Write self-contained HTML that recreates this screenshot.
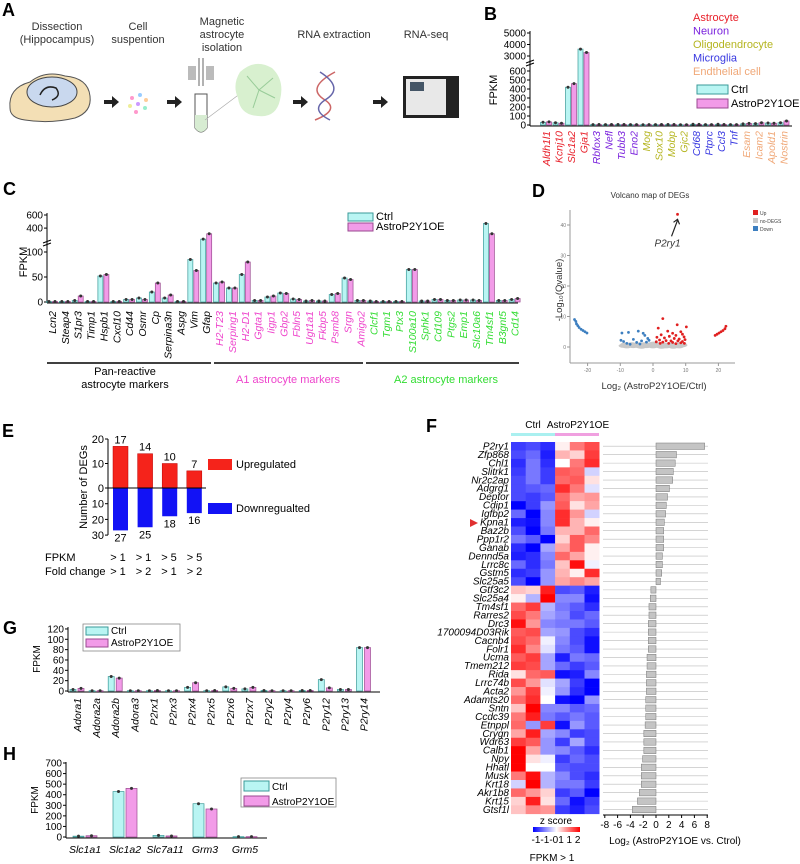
<!DOCTYPE html>
<html><head><meta charset="utf-8"><style>
html,body{margin:0;padding:0;background:#fff;}
svg{display:block;font-family:"Liberation Sans",Arial,sans-serif;}
</style></head><body>
<svg id="fig" width="800" height="864" viewBox="0 0 800 864" xmlns="http://www.w3.org/2000/svg">
<g>
<text x="2" y="16" font-size="18" font-weight="bold">A</text>
<g font-size="11" fill="#333" text-anchor="middle">
<text x="57" y="30">Dissection</text>
<text x="57" y="43">(Hippocampus)</text>
<text x="138" y="30">Cell</text>
<text x="138" y="43">suspention</text>
<text x="222" y="25">Magnetic</text>
<text x="222" y="38">astrocyte</text>
<text x="222" y="51">isolation</text>
<text x="334" y="38">RNA extraction</text>
<text x="426" y="38">RNA-seq</text>
</g>
<g>
<path d="M10,108 Q8,88 30,82 Q45,70 65,76 Q88,78 90,96 Q92,112 75,118 Q50,124 25,120 Q10,118 10,108Z" fill="#f3dfb5" stroke="#555" stroke-width="1"/>
<ellipse cx="52" cy="92" rx="25" ry="15" fill="#c9d8ee" stroke="#444"/>
<path d="M40,95 Q45,84 56,88 Q62,96 52,100" fill="none" stroke="#222" stroke-width="1.5"/>
</g>
<g fill="#222">
<path d="M104,100 h8 v-4 l7,6 -7,6 v-4 h-8z"/>
<path d="M167,100 h8 v-4 l7,6 -7,6 v-4 h-8z"/>
<path d="M293,100 h8 v-4 l7,6 -7,6 v-4 h-8z"/>
<path d="M373,100 h8 v-4 l7,6 -7,6 v-4 h-8z"/>
</g>
<g>
<circle cx="132" cy="98" r="2" fill="#f9c"/><circle cx="140" cy="95" r="2" fill="#9cf"/><circle cx="146" cy="100" r="2" fill="#fc9"/>
<circle cx="130" cy="106" r="2" fill="#ee9"/><circle cx="138" cy="104" r="2" fill="#c9f"/><circle cx="145" cy="108" r="2" fill="#9ec"/><circle cx="136" cy="112" r="2" fill="#f9c"/>
</g>
<g>
<rect x="188" y="66" width="8" height="14" fill="#bbb"/><rect x="206" y="66" width="8" height="14" fill="#bbb"/>
<path d="M199,58 v28 M203,58 v28" stroke="#666" fill="none"/>
<path d="M195,94 h12 v34 q-6,8 -12,0z" fill="#fff" stroke="#555"/>
<path d="M195,115 h12 v13 q-6,8 -12,0z" fill="#d7ecd2"/>
<line x1="205" y1="120" x2="245" y2="90" stroke="#aaa" stroke-width="0.7"/>
<path d="M240,72 Q255,58 272,68 Q285,80 280,100 Q276,118 258,116 Q240,115 238,98 Q232,85 240,72Z" fill="#d8f0cf"/>
<path d="M259,90 l-12,-14 M259,90 l14,-12 M259,90 l-6,18 M259,90 l16,8" stroke="#9c9" stroke-width="1"/>
</g>
<g>
<path d="M335,72 Q305,88 325,100 Q340,110 315,120" fill="none" stroke="#c66" stroke-width="1.5"/>
<path d="M320,72 Q345,88 325,100 Q310,110 330,120" fill="none" stroke="#66a" stroke-width="1.5"/>
</g>
<g>
<rect x="403" y="76" width="56" height="42" fill="#222"/>
<rect x="406" y="79" width="40" height="36" fill="#e8e8e8"/>
<rect x="410" y="82" width="14" height="9" fill="#456"/>
</g>
</g>
<g id="gB"></g>
<g id="gC"></g>
<g id="gD"></g>
<g id="gE"></g>
<g id="gF"></g>
<g id="gG"></g>
<g id="gH"></g>
</svg>
<script>
// ---------- DATA ----------
const bGenes=["Aldh1l1","Kcnj10","Slc1a2","Gja1","Rbfox3","Nefl","Tubb3","Eno2","Mog","Sox10","Mobp","Gjc2","Cd68","Ptprc","Ccl3","Tnf","Esam","Icam2","Apold1","Nostrin"];
const bCtrl=[30,25,420,3600,4,4,5,4,3,4,5,3,8,4,8,4,12,15,22,25];
const bOE=[35,20,460,3300,5,5,6,4,4,5,5,3,7,4,6,4,18,25,20,45];
const bGroup=[0,0,0,0,1,1,1,1,2,2,2,2,3,3,3,3,4,4,4,4];
const bTicks=[0,100,200,300,400,500,600,3000,4000,5000];

const cGenes=["Lcn2","Steap4","S1pr3","Timp1","Hspb1","Cxcl10","Cd44","Osmr","Cp","Serpina3n","Aspg","Vim","Gfap","H2-T23","Serping1","H2-D1","Ggta1","Iigp1","Gbp2","Fbln5","Ugt1a1","Fkbp5","Psmb8","Srgn","Amigo2","Clcf1","Tgm1","Ptx3","S100a10","Sphk1","Cd109","Ptgs2","Emp1","Slc10a6","Tm4sf1","B3gnt5","Cd14"];
const cCtrl=[1,1,3,1,52,1,5,8,20,8,1,85,225,38,28,55,3,10,18,6,2,2,15,48,3,2,1,1,65,2,5,3,4,4,470,3,5];
const cOE=[1,1,12,1,55,1,5,5,38,14,1,63,310,40,28,80,3,12,17,5,3,2,17,45,3,1,1,1,65,2,5,3,4,3,310,3,7];
const cTicks=[0,50,100,400,600];

const upPts=[[7.5,43.5],[3,9.3],[7.4,7.3],[10.2,6.6],[1.6,6.2],[4.5,5.2],[8.5,5],[9,4.2],[6,4.5],[2.5,4],[5,3.5],[7,3.8],[9.5,3.3],[1.2,3.2],[3.5,3],[6.5,2.8],[8,2.6],[9.8,2.4],[2,2.3],[4,2.1],[5.5,2],[7.6,2],[9,1.8],[1,1.7],[3,1.6],[6,1.5],[8.5,1.4],[2.2,1.2],[4.8,1.2],[7,1.1],[9.6,1.2],[19,3.8],[19.6,4.2],[20.2,4.6],[20.8,5],[21.4,5.4],[22,6],[22.3,6.8]];
const downPts=[[-24,9],[-23.6,8.4],[-23.4,7.6],[-23,7],[-22.6,6.4],[-22,5.8],[-21.4,5.4],[-20.8,5],[-20.2,4.6],[-9.5,4.6],[-7.5,4.8],[-4.5,5.2],[-3,4.5],[-2.5,3.8],[-9.8,2.2],[-9,1.8],[-8,1.2],[-6,2.5],[-5,1.5],[-3.5,2],[-2,1.6],[-1.6,2.8],[-1.2,2.2],[-4,1],[-7,0.9]];
const noPts=[[-9,0.4],[-8,0.2],[-7,0.6],[-6,0.3],[-5,0.5],[-4,0.2],[-3,0.6],[-2,0.3],[-1,0.5],[0,0.2],[1,0.6],[2,0.3],[3,0.5],[4,0.2],[5,0.6],[6,0.3],[7,0.5],[8,0.2],[9,0.6],[-8.5,0.8],[-6.5,0.9],[-4.5,0.8],[-2.5,0.9],[-0.5,0.9],[0.5,0.7],[1.5,0.9],[3.5,0.8],[5.5,0.9],[7.5,0.8],[8.8,0.9],[-3.5,0.1],[0.2,1.1],[2.6,0.1],[6.2,0.1]];
const dXTicks=[-20,-10,0,10,20];
const dYTicks=[0,10,20,30,40];

const eUp=[17,14,10,7];
const eDown=[27,25,18,16];
const eFpkm=["> 1","> 1","> 5","> 5"];
const eFold=["> 1","> 2","> 1","> 2"];

const fGenes=["P2ry1","Zfp868","Chl1","Slitrk1","Nr2c2ap","Adgrg1","Deptor","Cdip1","Igfbp2","Kpna1","Baz2b","Ppp1r2","Ganab","Dennd5a","Lrrc8c","Gstm5","Slc25a5","Gtf3c2","Slc25a4","Tm4sf1","Rarres2","Drc3","1700094D03Rik","Cacnb4","Folr1","Ucma","Tmem212","Rida","Lrrc74b","Acta2","Adamts20","Sntn","Ccdc39","Etnppl","Crygn","Wdr63","Calb1","Npy","Hhatl","Musk","Krt18","Akr1b8","Krt15","Gtsf1l"];
const fLog2=[7.6,3.2,3,2.7,2.6,2.1,1.8,1.6,1.5,1.3,1.2,1.2,1.2,1,1,0.9,0.7,-0.8,-0.9,-1.1,-1.1,-1.2,-1.2,-1.2,-1.2,-1.4,-1.4,-1.5,-1.5,-1.5,-1.6,-1.6,-1.6,-1.7,-1.9,-1.9,-1.9,-2.1,-2.3,-2.3,-2.3,-2.6,-2.9,-3.7];
const fZ=[[-1.3,-1.2,-1.4,0.1,0.9,1.2],[-1.2,-1,-1.5,0.5,0.3,1.3],[-1.4,-0.9,-1.4,0,0.9,1.4],[-1.3,-0.9,-1.3,1.1,1,-0.3],[-1.2,-0.9,-1.3,1,1.1,0.2],[-1.2,-1.1,-1,1.4,0.9,-0.2],[-1.2,-1.3,-1.1,1,0.6,0.7],[-1.8,-1.3,-0.7,1.1,0.2,0.6],[-1,-1.8,-0.8,1.4,0.7,-0.3],[-1.5,-1.6,-0.8,1.4,0.5,0.1],[-1.2,-1.8,-0.9,0.5,0.5,1],[-0.9,-1.1,-1.7,0.3,1.1,0.8],[-1.4,-1.7,-0.6,0.6,1.1,0.1],[-1.5,-1.4,-0.8,1,0.6,0.1],[-1,-1.4,-0.9,0.4,1.6,-0.1],[-1.4,-1.3,-0.7,0.5,0.1,1.4],[-1.2,-1.7,-0.7,0.6,0.8,0.6],
[0.4,0.3,1.5,-1.2,-1.1,-1.5],[0.1,-0.5,1.8,-0.8,-0.8,-1.6],[1,1.3,-0.5,-0.9,-1.1,-1.4],[1.2,0.9,-0.6,-0.8,-1.2,-1],[1.6,0.7,-0.8,-0.9,-0.9,-1.1],[1.1,1.2,-0.6,-0.7,-1.2,-1.4],[1.2,1,-0.1,-0.8,-1.2,-1.6],[1.4,0.8,-0.2,-0.9,-1.1,-1.6],[1.1,1.3,-0.6,-1.5,-0.9,-1],[1.3,1.2,-0.6,-1,-1.3,-1.1],[0.2,1,1.1,-1.6,-1.5,-0.8],[1.2,0.7,-0.2,-0.6,-1.3,-1.8],[0.7,1.3,-0.1,-0.7,-1.4,-1.7],[1,1.4,0,-1.6,-1.7,-0.7],[0.4,1.7,-0.8,-0.8,-1.1,-1],[0.9,1.5,-0.9,-1.1,-0.9,-1.1],[1,-0.7,1.3,-1.6,-0.7,-1.1],[0.6,1.5,-0.6,-0.8,-1.3,-1.2],[1.3,1.1,-0.7,-1.3,-0.6,-1.2],[1.8,0.6,-0.7,-0.8,-1.1,-1.4],[1.8,0.2,-0.1,-1.3,-1,-1.2],[1.8,0,0,-1.1,-1.2,-1.2],[0.9,1.6,-0.5,-0.8,-1.2,-1.4],[-0.3,1.8,-0.5,-0.9,-0.9,-1.3],[1,0.7,0.3,-1.3,-1.1,-1.7],[0.3,1.5,0.2,-1,-1.6,-1.3],[0.4,0.8,0.7,-1.3,-1.5,-1.2]];
const fTicks=[-8,-6,-4,-2,0,2,4,6,8];

const gGenes=["Adora1","Adora2a","Adora2b","Adora3","P2rx1","P2rx3","P2rx4","P2rx5","P2rx6","P2rx7","P2ry2","P2ry4","P2ry6","P2ry12","P2ry13","P2ry14"];
const gCtrl=[3,0.5,28,0.5,0.5,0.5,7,0.5,8,4,1,0.5,1,22,3,84];
const gOE=[5,0.5,25,0.5,1,0.5,16,1,5,7,0.5,0.5,1,6,3,84];
const gTicks=[0,20,40,60,80,100,120];

const hGenes=["Slc1a1","Slc1a2","Slc7a11","Grm3","Grm5"];
const hCtrl=[8,430,15,315,3];
const hOE=[12,460,10,265,3];
const hTicks=[0,100,200,300,400,500,600,700];

// ---------- HELPERS ----------
const NS="http://www.w3.org/2000/svg";
function mk(tag,attrs,parent){const e=document.createElementNS(NS,tag);for(const k in attrs)e.setAttribute(k,attrs[k]);parent.appendChild(e);return e;}
function tx(str,attrs,parent){const e=mk("text",attrs,parent);e.textContent=str;return e;}
const CYAN="#b9f5f3",CYS="#3a9a98",PINK="#f29be8",PKS="#9a4a90";

function yAxis(g,x,ticks,yf,fs,y0,y1){
  const a=mk("line",{x1:x,x2:x,y1:y0,y2:y1,stroke:"#000","stroke-width":1},g);
  
  
  ticks.forEach(t=>{
    const y=yf(t);
    mk("line",{x1:x-3,x2:x,y1:y,y2:y,stroke:"#000"},g);
    const l=tx(String(t),{x:x-4,y:y+fs*0.35,"font-size":fs,"text-anchor":"end"},g);
    
    
  });
}
function bar(g,x,w,v,yf,fill,stroke){
  const y0=yf(0),y=yf(v);
  const r=mk("rect",{x:x,y:Math.min(y,y0),width:w,height:Math.max(0.8,Math.abs(y0-y)),fill:fill,stroke:stroke,"stroke-width":0.7},g);
  
  
  mk("circle",{cx:x+w/2,cy:y,r:1.5,fill:"#333"},g);
  return r;
}
function legend2(g,x,y,bw,bh,gap,fs,box){
  if(box){mk("rect",{x:box[0],y:box[1],width:box[2],height:box[3],fill:"#fff",stroke:"#888","stroke-width":0.8},g);}
  const r1=mk("rect",{x:x,y:y,width:bw,height:bh,fill:CYAN,stroke:CYS},g);
  
  
  const t1=tx("Ctrl",{x:x+bw+3,y:y+bh-1,"font-size":fs},g);
  
  
  const r2=mk("rect",{x:x,y:y+gap,width:bw,height:bh,fill:PINK,stroke:PKS},g);
  
  
  const t2=tx("AstroP2Y1OE",{x:x+bw+3,y:y+gap+bh-1,"font-size":fs},g);
  
  
}
function rotLabel(g,str,x,y,fs,color){
  const t=tx(str,{x:x,y:y,"font-size":fs,"font-style":"italic","text-anchor":"end",fill:color||"#000",transform:`rotate(-90 ${x} ${y})`},g);
  
  
}
function panelLabel(g,s,x,y){
  const t=tx(s,{x:x,y:y,"font-size":18,"font-weight":"bold"},g);
  
  
}
function axTitle(g,s,x,y,fs){
  const t=tx(s,{x:x,y:y,"font-size":fs,"text-anchor":"middle",transform:`rotate(-90 ${x} ${y})`},g);
  
  
}

// ---------- B ----------
(function(){
  const g=document.getElementById("gB");
  panelLabel(g,"B",484,20);
  const yf=v=>v<=600?125-v*0.09:(v<=3000?71-(v-600)/2400*15:56-(v-3000)*0.0115);
  yAxis(g,530,bTicks,yf,10,31,126);
  mk("line",{x1:530,x2:792,y1:126,y2:126,stroke:"#000"},g);
  mk("path",{d:"M526,63 l8,-3 M526,66 l8,-3",stroke:"#000",fill:"none"},g);
  axTitle(g,"FPKM",497,90,11);
  const cols=["#e8202a","#7a22dd","#b5b520","#3636e0","#f0a878"];
  const names=["Astrocyte","Neuron","Oligodendrocyte","Microglia","Endthelial cell"];
  names.forEach((n,i)=>{const t=tx(n,{x:693,y:21+i*13.5,"font-size":11,fill:cols[i]},g);
    
    });
  legend2(g,697,85,31,9,14,11,null);
  bGenes.forEach((n,i)=>{
    const cx=546+i*12.5;
    bar(g,cx-5.5,5,bCtrl[i],yf,CYAN,CYS);
    bar(g,cx+0.5,5,bOE[i],yf,PINK,PKS);
    rotLabel(g,n,cx+4,131,10.5,cols[bGroup[i]]);
  });
})();

// ---------- C ----------
(function(){
  const g=document.getElementById("gC");
  panelLabel(g,"C",3,195);
  const yf=v=>v<=100?302-v*0.5:(v<=400?247-(v-100)*0.063:228-(v-400)*0.065);
  yAxis(g,47,cTicks,yf,10,213,303);
  mk("path",{d:"M43,243 l8,-3 M43,246 l8,-3",stroke:"#000",fill:"none"},g);
  mk("line",{x1:47,x2:518,y1:303,y2:303,stroke:"#000"},g);
  axTitle(g,"FPKM",27,262,11);
  legend2(g,348,213,25,8,10,11,null);
  cGenes.forEach((n,i)=>{
    const cx=52+i*12.85;
    bar(g,cx-5.5,5,cCtrl[i],yf,CYAN,CYS);
    bar(g,cx+0.5,5,cOE[i],yf,PINK,PKS);
    const col=i<13?"#000":(i<25?"#ee44cc":"#33dd33");
    rotLabel(g,n,cx+4,311,10.5,col);
  });
  [[47,211],[214,363],[366,519]].forEach(s=>{const l=mk("line",{x1:s[0],x2:s[1],y1:363,y2:363,stroke:"#000","stroke-width":1.6},g);
    
    });
  const t1=tx("Pan-reactive",{x:125,y:375,"font-size":11,"text-anchor":"middle"},g);
  
  
  const t2=tx("astrocyte markers",{x:125,y:388,"font-size":11,"text-anchor":"middle"},g);
  
  
  const t3=tx("A1 astrocyte markers",{x:288,y:383,"font-size":11,"text-anchor":"middle",fill:"#ee44cc"},g);
  
  
  const t4=tx("A2 astrocyte markers",{x:446,y:383,"font-size":11,"text-anchor":"middle",fill:"#33dd33"},g);
  
  
})();

// ---------- D ----------
(function(){
  const g=document.getElementById("gD");
  panelLabel(g,"D",532,197);
  const xs=v=>653+v*3.27, ys=v=>347-v*3.05;
  const tt=tx("Volcano map of DEGs",{x:650,y:198,"font-size":8,"text-anchor":"middle",fill:"#333"},g);
  
  
  mk("line",{x1:570,x2:570,y1:210,y2:363,stroke:"#999"},g);
  mk("line",{x1:570,x2:735,y1:363,y2:363,stroke:"#999"},g);
  dYTicks.forEach(t=>{mk("line",{x1:567,x2:570,y1:ys(t),y2:ys(t),stroke:"#999"},g);
    const l=tx(String(t),{x:566,y:ys(t)+2,"font-size":5,"text-anchor":"end",fill:"#777"},g);
    
    });
  dXTicks.forEach(t=>{mk("line",{x1:xs(t),x2:xs(t),y1:363,y2:366,stroke:"#999"},g);
    const l=tx(String(t),{x:xs(t),y:372,"font-size":5,"text-anchor":"middle",fill:"#777"},g);
    
    });
  noPts.forEach(p=>{const c=mk("ellipse",{cx:xs(p[0]),cy:ys(p[1]),rx:5,ry:2,fill:"#c8c8c8"},g);
    
    });
  downPts.forEach(p=>{const c=mk("circle",{cx:xs(p[0]),cy:ys(p[1]),r:1.4,fill:"#3d7fc0"},g);
    
    });
  upPts.forEach(p=>{const c=mk("circle",{cx:xs(p[0]),cy:ys(p[1]),r:1.4,fill:"#e02020"},g);
    
    });
  const px=xs(upPts[0][0]),py=ys(upPts[0][1]);
  mk("path",{d:`M${px-6},${py+22} L${px},${py+6} M${px-4},${py+8} L${px},${py+5} L${px+2},${py+10}`,stroke:"#222","stroke-width":1.2,fill:"none"},g);
  const lp=tx("P2ry1",{x:px-10,y:py+32,"font-size":10,"font-style":"italic","text-anchor":"middle",fill:"#333"},g);
  
  
  [["Up","#e02020"],["no-DEGS","#c8c8c8"],["Down","#3d7fc0"]].forEach((e,i)=>{
    mk("rect",{x:753,y:210+i*8,width:5,height:5,fill:e[1]},g);
    const l=tx(e[0],{x:760,y:215+i*8,"font-size":5,fill:"#444"},g);
    
    });
  const yt=tx("-Log",{x:562,y:290,"font-size":9.5,"text-anchor":"middle",transform:"rotate(-90 562 290)",fill:"#333"},g);
  yt.textContent="-Log\u2081\u2080(Qvalue)";
  
  
  const xt=tx("Log\u2082 (AstroP2Y1OE/Ctrl)",{x:654,y:389,"font-size":9.5,"text-anchor":"middle",fill:"#333"},g);
  
  
})();

// ---------- E ----------
(function(){
  const g=document.getElementById("gE");
  panelLabel(g,"E",2,437);
  const yUp=v=>488-v*2.45, yDn=v=>488+v*1.57;
  mk("line",{x1:108,x2:108,y1:439,y2:535,stroke:"#000"},g);
  [[20,yUp(20)],[10,yUp(10)],[0,488],[10,yDn(10)],[20,yDn(20)],[30,yDn(30)]].forEach(t=>{
    mk("line",{x1:105,x2:108,y1:t[1],y2:t[1],stroke:"#000"},g);
    const l=tx(String(t[0]),{x:104,y:t[1]+4,"font-size":11,"text-anchor":"end"},g);
    
    });
  axTitle(g,"Number of DEGs",87,487,11);
  eUp.forEach((v,i)=>{
    const x=113+i*24.6;
    const r=mk("rect",{x:x,y:yUp(v),width:15,height:488-yUp(v),fill:"#f5231b",stroke:"#b00","stroke-width":0.5},g);
    
    
    const l=tx(String(v),{x:x+7.5,y:yUp(v)-3,"font-size":11,"text-anchor":"middle"},g);
    
    
    const d=eDown[i];
    const r2=mk("rect",{x:x,y:488,width:15,height:yDn(d)-488,fill:"#1212f5"},g);
    
    
    const l2=tx(String(d),{x:x+7.5,y:yDn(d)+11,"font-size":11,"text-anchor":"middle"},g);
    
    
    const f1=tx(eFpkm[i],{x:118+i*25.5,y:561,"font-size":11,"text-anchor":"middle"},g);
    
    
    const f2=tx(eFold[i],{x:118+i*25.5,y:575,"font-size":11,"text-anchor":"middle"},g);
    
    
  });
  mk("line",{x1:108,x2:206,y1:488,y2:488,stroke:"#000"},g);
  mk("rect",{x:208,y:459,width:24,height:11,fill:"#f5231b"},g);
  const u=tx("Upregulated",{x:236,y:468,"font-size":11},g);
  
  
  mk("rect",{x:208,y:503,width:24,height:11,fill:"#1212f5"},g);
  const d=tx("Downregualted",{x:236,y:512,"font-size":11},g);
  
  
  const a=tx("FPKM",{x:45,y:561,"font-size":11},g);
  
  
  const b=tx("Fold change",{x:45,y:575,"font-size":11},g);
  
  
})();

// ---------- F ----------
(function(){
  const g=document.getElementById("gF");
  panelLabel(g,"F",426,432);
  const rh=8.45, top=442, hx=511, cw=14.7;
  const xb=v=>656+v*6.4;
  const c1=tx("Ctrl",{x:533,y:428,"font-size":10,"text-anchor":"middle"},g);
  
  
  const c2=tx("AstroP2Y1OE",{x:578,y:428,"font-size":10,"text-anchor":"middle"},g);
  
  
  mk("rect",{x:511,y:433,width:44,height:3,fill:"#aaf0f0"},g);
  mk("rect",{x:555,y:433,width:44,height:3,fill:"#f0a0e0"},g);
  function zc(z){const t=Math.min(1,Math.abs(z)/1.7);const w=Math.round(255*(1-t));
    return z>=0?`rgb(255,${w},${w})`:`rgb(${w},${w},255)`;}
  fGenes.forEach((n,i)=>{
    const y=top+i*rh;
    fZ[i].forEach((z,j)=>{const r=mk("rect",{x:hx+j*cw,y:y,width:cw+0.3,height:rh+0.3,fill:zc(z)},g);
      
      });
    const l=tx(n,{x:509,y:y+rh-1,"font-size":10,"font-style":"italic","text-anchor":"end"},g);
    
    
    mk("line",{x1:603,x2:708,y1:y+rh/2,y2:y+rh/2,stroke:"#bbb","stroke-width":0.6},g);
    const v=fLog2[i];
    const r=mk("rect",{x:Math.min(xb(0),xb(v)),y:y+1,width:Math.abs(xb(v)-xb(0)),height:rh-2,fill:"#c4c4c4",stroke:"#777","stroke-width":0.5},g);
    
    
  });
  mk("line",{x1:603,x2:708,y1:815,y2:815,stroke:"#000"},g);
  fTicks.forEach(t=>{mk("line",{x1:xb(t),x2:xb(t),y1:815,y2:818,stroke:"#000"},g);
    const l=tx(String(t),{x:xb(t),y:828,"font-size":10,"text-anchor":"middle"},g);
    
    });
  const xt=tx("Log\u2082 (AstroP2Y1OE vs. Ctrol)",{x:675,y:844,"font-size":10,"text-anchor":"middle"},g);
  
  
  const zs=tx("z score",{x:556,y:824,"font-size":10,"text-anchor":"middle"},g);
  
  
  const defs=mk("defs",{},g);
  const lg=mk("linearGradient",{id:"zg",x1:0,x2:1,y1:0,y2:0},defs);
  mk("stop",{offset:"0","stop-color":"#0000ff"},lg);mk("stop",{offset:"0.5","stop-color":"#ffffff"},lg);mk("stop",{offset:"1","stop-color":"#ff0000"},lg);
  const cb=mk("rect",{x:533,y:827,width:47,height:5,fill:"url(#zg)"},g);
  
  
  const zl=tx("-1-1-01 1 2",{x:556,y:843,"font-size":10,"text-anchor":"middle"},g);
  
  
  const fp=tx("FPKM > 1",{x:552,y:861,"font-size":10,"text-anchor":"middle"},g);
  
  
  mk("path",{d:"M470,519 l8,4 -8,4z",fill:"#e03030"},g);
})();

// ---------- G ----------
(function(){
  const g=document.getElementById("gG");
  panelLabel(g,"G",3,634);
  const yf=v=>691-v*0.517;
  yAxis(g,68,gTicks,yf,10,627,692);
  mk("line",{x1:68,x2:380,y1:692,y2:692,stroke:"#000"},g);
  axTitle(g,"FPKM",40,659,10);
  legend2(g,86,627,22,8,12,10,[83,624,97,27]);
  gGenes.forEach((n,i)=>{
    const cx=77+i*19.1;
    bar(g,cx-7,6,gCtrl[i],yf,CYAN,CYS);
    bar(g,cx+1,6,gOE[i],yf,PINK,PKS);
    rotLabel(g,n,cx+4,698,10.5,"#000");
  });
})();

// ---------- H ----------
(function(){
  const g=document.getElementById("gH");
  panelLabel(g,"H",3,760);
  const yf=v=>837-v*0.1057;
  yAxis(g,66,hTicks,yf,10,762,838);
  mk("line",{x1:66,x2:267,y1:838,y2:838,stroke:"#000"},g);
  axTitle(g,"FPKM",38,800,10);
  legend2(g,244,781,25,10,15,10,[241,778,95,29]);
  hGenes.forEach((n,i)=>{
    const cx=85+i*40;
    bar(g,cx-12,11,hCtrl[i],yf,CYAN,CYS);
    bar(g,cx+1,11,hOE[i],yf,PINK,PKS);
    const l=tx(n,{x:cx,y:853,"font-size":10.5,"font-style":"italic","text-anchor":"middle"},g);
    
    
  });
})();
</script>
</body></html>
